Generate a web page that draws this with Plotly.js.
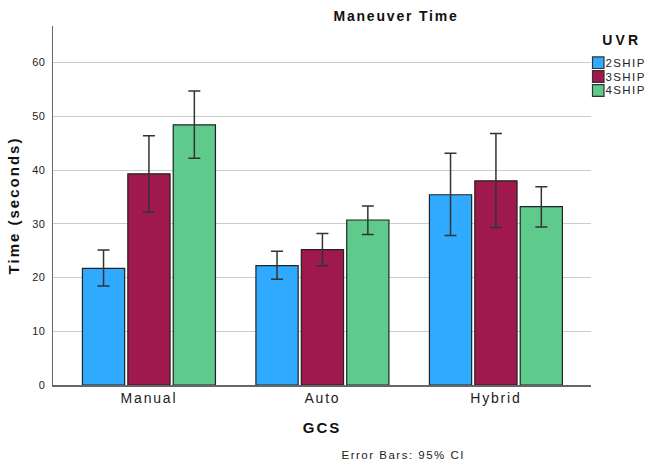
<!DOCTYPE html>
<html>
<head>
<meta charset="utf-8">
<script src="https://cdn.plot.ly/plotly-3.0.1.min.js"></script>
<style>
  html, body { margin: 0; padding: 0; background: #fff; }
  #chart { width: 648px; height: 468px; }
  .main-svg text.gtitle { letter-spacing: 1.8px; }
  .main-svg text.ytitle { letter-spacing: 2px; }
  .main-svg text.xtitle { letter-spacing: 2px; }
  .main-svg g.xtick text { letter-spacing: 1.8px; }
  .main-svg g.ytick text { letter-spacing: 0.4px; }
  .main-svg g.annotation[data-index="0"] text,
  .main-svg g.annotation[data-index="1"] text,
  .main-svg g.annotation[data-index="2"] text { letter-spacing: 1.4px; }
  .main-svg g.annotation[data-index="3"] text { letter-spacing: 3.2px; }
  .main-svg g.annotation[data-index="4"] text { letter-spacing: 1.5px; }
</style>
</head>
<body>
<div id="chart"></div>
<script>
// ---- data ----
const categories = ['Manual', 'Auto', 'Hybrid'];
const seriesNames = ['2SHIP', '3SHIP', '4SHIP'];
const mean2 = [21.7, 22.2, 35.4];
const mean3 = [39.3, 25.2, 38.0];
const mean4 = [48.4, 30.7, 33.2];
const ciLow2 = [18.4, 19.7, 27.8];
const ciHigh2 = [25.1, 24.9, 43.1];
const ciLow3 = [32.2, 22.2, 29.3];
const ciHigh3 = [46.4, 28.2, 46.8];
const ciLow4 = [42.2, 28.0, 29.4];
const ciHigh4 = [54.7, 33.3, 36.9];
const yTicks = [0, 10, 20, 30, 40, 50, 60];

const colors = ['#30AAFF', '#A0194D', '#5ECA8B'];
const means = [mean2, mean3, mean4];
const lows = [ciLow2, ciLow3, ciLow4];
const highs = [ciHigh2, ciHigh3, ciHigh4];

const W = 648, H = 468;
const mL = 53, mR = 57, mT = 26, mB = 83;
const pw = W - mL - mR, ph = H - mT - mB;
const px = x => (x - mL) / pw;
const py = y => (H - mB - y) / ph;
const FONT = 'Liberation Sans, Arial, sans-serif';

const traces = seriesNames.map((name, i) => ({
  type: 'bar',
  name: name,
  x: categories,
  y: means[i],
  marker: { color: colors[i], line: { color: '#222', width: 1.2 } },
  error_y: {
    type: 'data', symmetric: false,
    array: means[i].map((m, k) => highs[i][k] - m),
    arrayminus: means[i].map((m, k) => m - lows[i][k]),
    color: '#333', thickness: 1.5, width: 6
  },
  showlegend: false,
  hoverinfo: 'skip'
}));

// custom compact legend (shapes + annotations)
const shapes = [];
const annotations = [];
const legY = [62.7, 76.5, 90.5];
seriesNames.forEach((name, i) => {
  shapes.push({
    type: 'rect', xref: 'paper', yref: 'paper',
    x0: px(592.5), x1: px(604), y0: py(legY[i] + 5.8), y1: py(legY[i] - 5.8),
    fillcolor: colors[i], line: { color: '#333', width: 1.2 }
  });
  annotations.push({
    xref: 'paper', yref: 'paper', x: px(607), y: py(legY[i]),
    xanchor: 'left', yanchor: 'middle', showarrow: false,
    text: name, font: { family: FONT, size: 11.5, color: '#222' }
  });
});
annotations.push({
  xref: 'paper', yref: 'paper', x: px(621.5), y: py(40.5),
  xanchor: 'center', yanchor: 'middle', showarrow: false,
  text: '<b>UVR</b>', font: { family: FONT, size: 14, color: '#111' }
});
annotations.push({
  xref: 'paper', yref: 'paper', x: px(403), y: py(455),
  xanchor: 'center', yanchor: 'middle', showarrow: false,
  text: 'Error Bars: 95% CI', font: { family: FONT, size: 11.5, color: '#222' }
});

const layout = {
  width: W, height: H,
  margin: { l: mL, r: mR, t: mT, b: mB, pad: 0 },
  paper_bgcolor: '#fff', plot_bgcolor: '#fff',
  font: { family: FONT, color: '#222' },
  title: {
    text: '<b>Maneuver Time</b>',
    xref: 'container', yref: 'container',
    x: 396 / W, y: 1 - 16.5 / H, xanchor: 'center', yanchor: 'middle',
    font: { size: 14, color: '#111' }
  },
  barmode: 'group',
  bargap: 0.215,
  bargroupgap: 0.07,
  xaxis: {
    type: 'category',
    range: [-0.553, 2.548],
    showline: true, linecolor: '#666', linewidth: 1.5,
    showgrid: false, zeroline: false, ticks: '',
    tickfont: { size: 14, color: '#222' },
    title: { text: '<b>GCS</b>', font: { size: 15, color: '#111' }, standoff: 17 },
    automargin: false
  },
  yaxis: {
    range: [0, 66.8],
    tickvals: yTicks,
    showline: true, linecolor: '#666', linewidth: 1.5,
    showgrid: true, gridcolor: '#cccccc', gridwidth: 1,
    zeroline: false, ticks: '',
    ticklabelstandoff: 4,
    tickfont: { size: 11, color: '#222' },
    title: { text: '<b>Time (seconds)</b>', font: { size: 15, color: '#111' }, standoff: 10 },
    automargin: false
  },
  shapes: shapes,
  annotations: annotations
};

Plotly.newPlot('chart', traces, layout, { staticPlot: true, displayModeBar: false });
</script>
</body>
</html>
